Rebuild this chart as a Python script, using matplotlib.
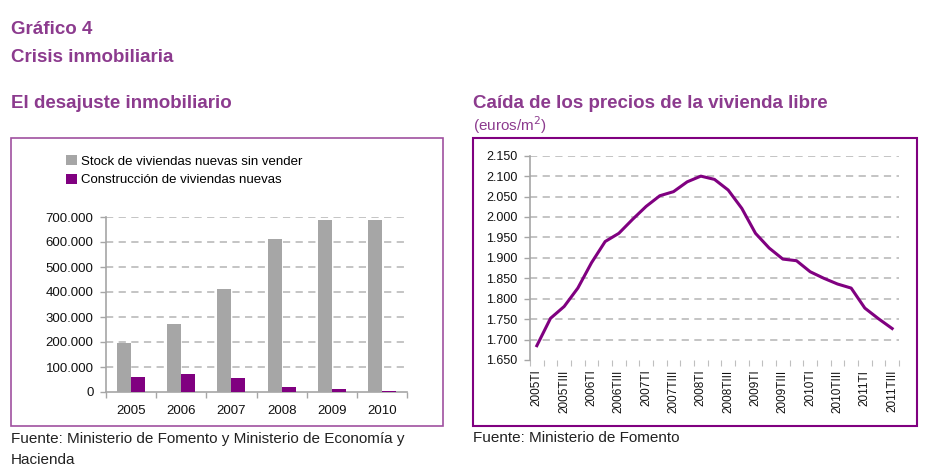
import numpy as np
import matplotlib
matplotlib.use('Agg')
import matplotlib.pyplot as plt
from matplotlib.patches import Rectangle
from matplotlib.ticker import FuncFormatter

plt.rcParams['font.family'] = ['Liberation Sans Narrow', 'Liberation Sans', 'DejaVu Sans']

# --- data ---
years = ['2005', '2006', '2007', '2008', '2009', '2010']
stock = [196000, 273000, 413000, 612000, 687000, 687000]
construccion = [60000, 71000, 56000, 20000, 11000, 5000]

quarters = ['2005TI', '2005TII', '2005TIII', '2005TIV',
            '2006TI', '2006TII', '2006TIII', '2006TIV',
            '2007TI', '2007TII', '2007TIII', '2007TIV',
            '2008TI', '2008TII', '2008TIII', '2008TIV',
            '2009TI', '2009TII', '2009TIII', '2009TIV',
            '2010TI', '2010TII', '2010TIII', '2010TIV',
            '2011TI', '2011TII', '2011TIII']
precio = [1685, 1752, 1781, 1826, 1888, 1940, 1960, 1994, 2026, 2052,
          2062, 2086, 2100, 2092, 2066, 2021, 1960, 1924, 1897, 1893,
          1866, 1850, 1836, 1826, 1777, 1751, 1727]
precio_ticks = [1650, 1700, 1750, 1800, 1850, 1900, 1950, 2000, 2050, 2100, 2150]

purple = '#800080'
gray = '#A6A6A6'
titlec = '#8C3B8E'
gridc = '#BFBFBF'
W, H = 927, 466

def fx(px):
    return px / W

def fy(py):
    return 1 - py / H

def miles(v, pos=None):
    return '{:,.0f}'.format(v).replace(',', '.')

fig = plt.figure(figsize=(9.27, 4.66), dpi=100)

# titles
fig.text(fx(11), fy(34), 'Gráfico 4', fontsize=13.5, fontweight='bold', color=titlec)
fig.text(fx(11), fy(62), 'Crisis inmobiliaria', fontsize=13.5, fontweight='bold', color=titlec)
fig.text(fx(11), fy(108), 'El desajuste inmobiliario', fontsize=13.5, fontweight='bold', color=titlec)
fig.text(fx(473), fy(108), 'Caída de los precios de la vivienda libre', fontsize=13.5,
         fontweight='bold', color=titlec)
fig.text(fx(473), fy(131), '(euros/m$^2$)', fontsize=11, color=titlec)

# boxes
fig.patches.append(Rectangle((fx(11), fy(426)), fx(432), 288 / H, transform=fig.transFigure,
                             fill=False, edgecolor='#A050A0', lw=1.2))
fig.patches.append(Rectangle((fx(473), fy(426)), fx(444), 288 / H, transform=fig.transFigure,
                             fill=False, edgecolor=purple, lw=1.5))

# sources
fig.text(fx(11), fy(443), 'Fuente: Ministerio de Fomento y Ministerio de Economía y',
         fontsize=11, color='#222222')
fig.text(fx(11), fy(464), 'Hacienda', fontsize=11, color='#222222')
fig.text(fx(473), fy(442), 'Fuente: Ministerio de Fomento', fontsize=11, color='#222222')

# --- left chart ---
ax1 = fig.add_axes([fx(106), fy(392), fx(301), 175 / H])
x = np.arange(len(years))
bw = 0.28
ax1.bar(x - bw / 2, stock, bw, color=gray, label='Stock de viviendas nuevas sin vender', zorder=3)
ax1.bar(x + bw / 2, construccion, bw, color=purple, label='Construcción de viviendas nuevas', zorder=3)
ax1.set_xlim(-0.5, len(years) - 0.5)
ax1.set_ylim(0, 700000)
ax1.set_yticks(np.arange(0, 700001, 100000))
ax1.yaxis.set_major_formatter(FuncFormatter(miles))
for v in ax1.get_yticks()[1:]:
    ax1.axhline(v, color=gridc, lw=1.3, ls=(0, (4, 3)), zorder=1)
ax1.set_xticks(x)
ax1.set_xticklabels(years)
ax1.set_xticks(np.arange(-0.5, len(years)), minor=True)
ax1.tick_params(axis='x', which='major', length=0, pad=9, labelsize=9.5, labelcolor='#111111')
ax1.tick_params(axis='x', which='minor', length=4, color=gray, width=1)
ax1.tick_params(axis='y', length=4, color=gray, width=1, pad=5, labelsize=9.5, labelcolor='#111111')
for s in ['top', 'right']:
    ax1.spines[s].set_visible(False)
for s in ['left', 'bottom']:
    ax1.spines[s].set_color(gray)
    ax1.spines[s].set_linewidth(1.2)
ax1.legend(loc='upper left', bbox_to_anchor=(fx(66), fy(155)), bbox_transform=fig.transFigure,
           frameon=False, fontsize=9.5, handlelength=0.8, handleheight=0.8,
           handletextpad=0.3, labelspacing=0.45, borderpad=0, borderaxespad=0)

# --- right chart ---
ax2 = fig.add_axes([fx(530), fy(360), fx(369), 204.3 / H])
xq = np.arange(len(quarters))
ax2.plot(xq, precio, color=purple, lw=2.2, zorder=3, solid_joinstyle='round')
ax2.set_xlim(-0.5, len(quarters) - 0.5)
ax2.set_ylim(1650, 2150)
ax2.set_yticks(precio_ticks)
ax2.yaxis.set_major_formatter(FuncFormatter(miles))
for v in precio_ticks[1:]:
    ax2.axhline(v, color=gridc, lw=1.3, ls=(0, (4, 3)), zorder=1)
ax2.set_xticks(xq[::2])
ax2.set_xticklabels(quarters[::2], rotation=90, va='top', ha='center')
ax2.set_xticks(np.arange(-0.5, len(quarters)), minor=True)
ax2.tick_params(axis='x', which='major', length=0, pad=7, labelsize=8.5, labelcolor='#111111')
ax2.tick_params(axis='x', which='minor', length=4, color=gridc, width=0.8)
ax2.tick_params(axis='y', length=4, color=gray, width=1, pad=5, labelsize=9, labelcolor='#111111')
for s in ['top', 'right', 'bottom']:
    ax2.spines[s].set_visible(False)
ax2.spines['left'].set_color(gray)
ax2.spines['left'].set_linewidth(1.2)

plt.savefig('out.png', dpi=100)
